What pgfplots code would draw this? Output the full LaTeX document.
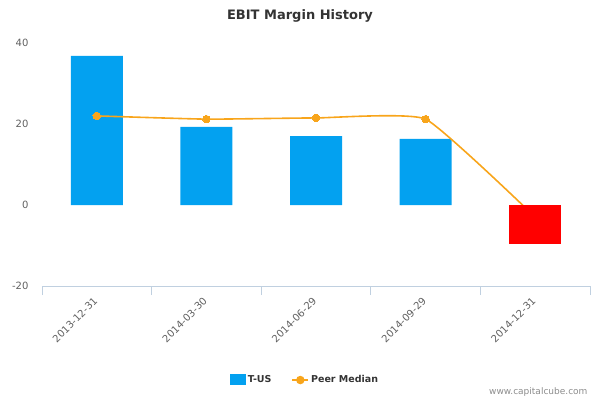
\documentclass[border=0pt]{standalone}
\usepackage{fontspec}
\setmainfont{DejaVu Sans}
\usepackage{pgfplots}
\pgfplotsset{compat=1.18}
\definecolor{tblue}{RGB}{3,161,240}
\definecolor{peer}{RGB}{248,165,27}
\definecolor{axisc}{RGB}{192,208,224}
\definecolor{labc}{RGB}{96,96,96}
\begin{document}
\begin{tikzpicture}
\useasboundingbox (0,0) rectangle (600pt,400pt);
\node[font=\fontsize{13}{15}\selectfont\bfseries, text=black!80] at (300pt,384pt) {EBIT Margin History};
\node[font=\fontsize{9}{10}\selectfont, text=black!45, anchor=east] at (591pt,8pt) {www.capitalcube.com};
\begin{axis}[
    at={(42pt,114pt)}, anchor=south west,
    scale only axis, width=548pt, height=243pt,
    xmin=-0.5, xmax=4.5, ymin=-20, ymax=40,
    axis lines*=left,
    x axis line style={axisc, line width=0.8pt},
    y axis line style={draw=none},
    ytick={-20,0,20,40},
    ytick style={draw=none},
    /pgf/number format/assume math mode=true,
    yticklabel style={font=\fontsize{10}{12}\selectfont, text=labc, xshift=-10pt},
    xtick={0,1,2,3,4},
    xticklabels={2013-12-31,2014-03-30,2014-06-29,2014-09-29,2014-12-31},
    major tick length=0pt,
    xticklabel style={font=\fontsize{10}{12}\selectfont, text=labc, yshift=-9pt, xshift=-4pt, rotate=45, anchor=north east, inner sep=1pt},
    extra x ticks={-0.5,0.5,1.5,2.5,3.5,4.5},
    extra x tick labels={},
    extra x tick style={tick align=outside, major tick length=9pt, tick style={draw=axisc, line width=0.8pt}},
    clip=false,
    legend style={at={(0.48,-0.387)}, anchor=center, draw=none, fill=none,
        legend columns=2, font=\fontsize{9.5}{11}\selectfont\bfseries, text=black!80,
        /tikz/every even column/.append style={column sep=18pt}},
]
\addplot[ybar, bar width=52pt, bar shift=0pt, fill=tblue, draw=none,
    legend image code/.code={\fill[tblue] (0pt,-5pt) rectangle (16pt,6pt);}]
    coordinates {(0,36.8) (1,19.3) (2,17.0) (3,16.3)};
\addlegendentry{T-US}
\addplot[peer, line width=1.6pt, smooth, tension=0.25, mark=*, mark indices={1,2,3,4},
    mark options={fill=peer, draw=peer, line width=0pt}, mark size=3.8pt,
    legend image code/.code={\draw[peer, line width=1.6pt] (0pt,0pt) -- (16pt,0pt);
        \fill[peer] (8pt,0pt) circle (3.4pt);}]
    coordinates {(0,22.0) (1,21.2) (2,21.5) (3,21.2) (4,-3)};
\addlegendentry{Peer Median}
\addplot[ybar, bar width=52pt, bar shift=0pt, fill=red, draw=none, forget plot]
    coordinates {(4,-9.6)};
\end{axis}
\end{tikzpicture}
\end{document}
